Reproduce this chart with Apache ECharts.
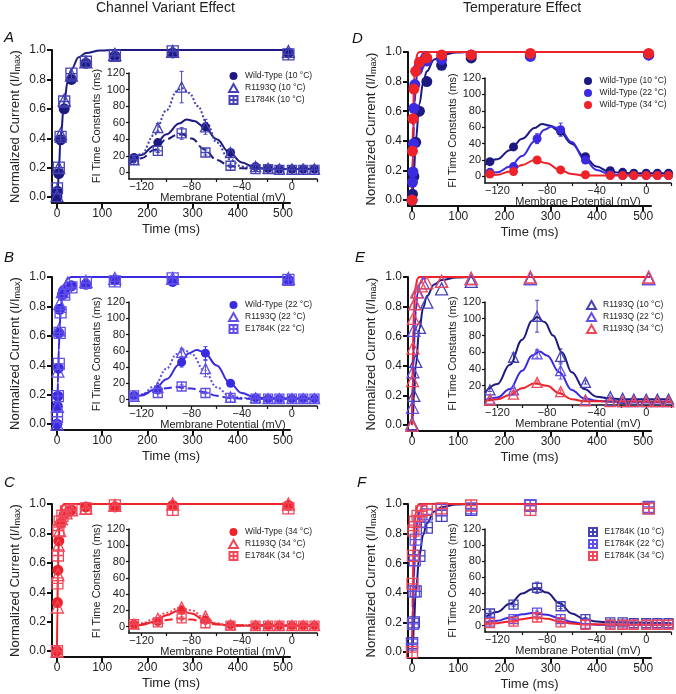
<!DOCTYPE html>
<html lang="en">
<head>
<meta charset="UTF-8" />
<title>Fast inactivation recovery</title>
<script src="https://cdn.jsdelivr.net/npm/echarts@6.0.0/dist/echarts.min.js"></script>
<style>body{margin:0;background:#fff}</style>
</head>
<body>
<div id="main" style="width:676px;height:694px"></div>
<script>
// ---- recovery time courses: [time (ms), normalized current] ----
const recWT10 = [[0,0],[1,0.04],[4,0.16],[8,0.39],[16,0.6],[32,0.8],[64,0.91],[128,0.96],[256,0.98],[512,0.98]];
const recRQ10 = [[0,0.01],[4,0.2],[8,0.43],[16,0.66],[32,0.83],[64,0.92],[128,0.97],[256,0.99],[512,0.99]];
const recEK10 = [[0,0.06],[4,0.2],[8,0.41],[16,0.65],[32,0.84],[64,0.92],[128,0.96],[256,0.99],[512,0.97]];
const recWT22 = [[0,0],[1,0.12],[2,0.19],[3,0.38],[4,0.62],[6,0.78],[12,0.88],[16,0.91],[32,0.94],[64,0.95],[128,0.98],[256,0.97],[512,0.98]];
const recRQ22 = [[0,0],[1,0.12],[2,0.36],[4,0.64],[6,0.82],[12,0.9],[24,0.96],[64,0.97],[128,0.99],[256,0.99],[512,0.99]];
const recEK22 = [[0,0.05],[2,0.19],[4,0.41],[6,0.62],[8,0.76],[16,0.88],[32,0.93],[64,0.96],[128,0.97],[256,0.99],[512,0.98]];
const recWT34 = [[0,0],[1,0.33],[2,0.55],[4,0.75],[8,0.87],[16,0.93],[32,0.96],[64,0.98],[128,0.98],[256,0.99],[512,0.99]];
const recRQ34 = [[0,0],[1,0.3],[2,0.52],[3,0.72],[6,0.82],[10,0.9],[20,0.94],[32,0.96],[64,0.97],[128,0.99],[256,1],[512,1]];
const recEK34 = [[0,0],[1,0.46],[2,0.65],[3,0.82],[6,0.88],[12,0.92],[20,0.95],[32,0.96],[64,0.97],[128,0.99],[256,0.96],[512,0.97]];

// fitted recovery curves
const fitRec10 = [[0,0],[2,0.06],[4,0.18],[8,0.4],[16,0.65],[24,0.79],[32,0.87],[48,0.95],[64,0.98],[96,0.997],[128,1],[515,1]];
const fitRec22 = [[0,0],[1,0.14],[2,0.28],[3,0.4],[4,0.5],[6,0.66],[8,0.77],[12,0.89],[16,0.95],[24,0.99],[32,1],[515,1]];
const fitRec34 = [[0,0],[1,0.3],[2,0.5],[3,0.65],[4,0.75],[6,0.88],[8,0.94],[12,0.99],[16,1],[515,1]];

// ---- inset: fast inactivation time constants vs membrane potential ----
const volts = [-126, -107, -88, -69, -49, -29, -19, -10, 0, 9, 18];
const tauWT10 = [18, 36, null, 55, 24, 7, 5, 4, 4, 4, 4];
const tauWT22 = [5, 12, 46, 57, 20, 2, 1, 1, 1, 1, 1];
const tauWT34 = [3, 6, 20, 8, 2, 1, 1, 1, 1, 1, 1];
const tauRQ10 = [15, 54, 103, 55, 24, 7, 5, 4, 4, 4, 4];
const tauRQ22 = [4, 15, 58, 38, 3, 2, 1, 1, 1, 1, 1];
const tauRQ34 = [3, 10, 24, 13, 2, 1, 1, 1, 1, 1, 1];
const tauEK10 = [15, 26, 47, 24, 8, 4, 4, 3, 3, 3, 3];
const tauEK22 = [5, 8, 16, 8, 2, 1, 1, 1, 1, 1, 1];
const tauEK34 = [3, 5, 10, 4, 1, 1, 1, 1, 1, 1, 1];
// error bar half widths
const errWT10 = [2, 3, 0, 3, 2, 0, 0, 0, 0, 0, 0];
const errWT22 = [1, 2, 6, 8, 3, 0, 0, 0, 0, 0, 0];
const errWT34 = [1, 1, 2, 1, 0, 0, 0, 0, 0, 0, 0];
const errRQ10 = [2, 5, 19, 9, 2, 0, 0, 0, 0, 0, 0];
const errRQ22 = [1, 2, 5, 10, 1, 0, 0, 0, 0, 0, 0];
const errRQ34 = [1, 1, 2, 2, 0, 0, 0, 0, 0, 0, 0];
const errEK10 = [3, 2, 7, 3, 2, 0, 0, 0, 0, 0, 0];
const errEK22 = [1, 1, 2, 1, 0, 0, 0, 0, 0, 0, 0];
const errEK34 = [1, 1, 2, 1, 0, 0, 0, 0, 0, 0, 0];

// fitted tau curves
const fitWT10 = [[-130,14],[-120,21],[-110,32],[-100,46],[-90,59],[-84,64],[-78,62],[-70,55],[-60,40],[-50,24],[-40,12],[-30,6],[-20,4.5],[-10,4],[20,4]];
const fitRQ10 = [[-130,12],[-120,22],[-110,45],[-100,75],[-92,98],[-88,102],[-82,96],[-75,80],[-68,60],[-60,36],[-50,16],[-40,7],[-30,5],[-20,4],[20,4]];
const fitEK10 = [[-130,10],[-120,17],[-110,27],[-100,40],[-92,45],[-88,46],[-80,41],[-70,28],[-60,15],[-50,8],[-40,5],[-30,4],[20,3]];
const fitWT22 = [[-130,3],[-120,5],[-110,12],[-100,25],[-90,43],[-82,57],[-76,61],[-70,58],[-60,42],[-50,21],[-40,8],[-30,3],[-20,1.5],[20,1]];
const fitRQ22 = [[-130,3],[-120,6],[-110,16],[-100,38],[-92,56],[-86,61],[-80,56],[-70,36],[-60,15],[-50,5],[-40,2],[-30,1],[20,1]];
const fitEK22 = [[-130,4],[-120,6],[-110,10],[-100,14],[-92,15.5],[-80,13.5],[-70,9],[-60,4.5],[-50,2],[-40,1],[20,1]];
const fitWT34 = [[-130,1],[-120,2],[-110,6],[-100,14],[-90,20],[-80,16],[-70,8],[-60,3],[-50,1],[20,1]];
const fitRQ34 = [[-130,2],[-120,4],[-110,9],[-100,17],[-90,23],[-80,20],[-70,11],[-60,4],[-50,1.5],[20,1]];
const fitEK34 = [[-130,2],[-120,3],[-110,5],[-100,8],[-90,10],[-80,8.5],[-70,5],[-60,2.5],[-50,1.5],[20,1]];

const timeTicks = [0, 100, 200, 300, 400, 500];
const currentTicks = [0, 0.2, 0.4, 0.6, 0.8, 1.0];
const voltTicks = [-120, -100, -80, -60, -40, -20, 0, 20];
const voltLabels = [-120, -80, -40, 0];
const tauTicks = [0, 20, 40, 60, 80, 100, 120];

const FONT = 'Liberation Sans, Arial, Helvetica, sans-serif';
const C10 = '#1c1a80', C22 = '#3a2be0', C34 = '#ee2229';
const L10 = '#4442b4', L22 = '#6050e8', L34 = '#f0485a';
const SQ = 'path://M1,1H19V19H1Z M10,1V19 M1,10H19';

let myChart = echarts.init(document.getElementById('main'));

const grids = [], xAxes = [], yAxes = [], series = [];

function mainPanel(left, top, width, height, xmin, xmax) {
  const gi = grids.length;
  grids.push({ left, top, width, height });
  xAxes.push({
    gridIndex: gi, type: 'value', min: xmin, max: xmax,
    name: 'Time (ms)', nameLocation: 'middle', nameGap: 20,
    nameTextStyle: { fontSize: 13, color: '#222', fontFamily: FONT },
    axisLine: { onZero: false, lineStyle: { color: '#111', width: 2 } },
    axisTick: { length: 5, lineStyle: { width: 2, color: '#111' }, customValues: timeTicks },
    axisLabel: { customValues: timeTicks, fontSize: 12, color: '#222', margin: 5, fontFamily: FONT },
    splitLine: { show: false }
  });
  yAxes.push({
    gridIndex: gi, type: 'value', min: -0.04, max: 1.0,
    name: 'Normalized Current (I/I{s|max})', nameLocation: 'middle', nameGap: 30,
    nameTextStyle: { fontSize: 13, color: '#222', fontFamily: FONT,
      rich: { s: { fontSize: 9, fontFamily: FONT, color: '#222', padding: [5, 0, 0, 0] } } },
    axisLine: { onZero: false, lineStyle: { color: '#111', width: 2 } },
    axisTick: { length: 5, lineStyle: { width: 2, color: '#111' }, customValues: currentTicks },
    axisLabel: { customValues: currentTicks, formatter: v => v.toFixed(1), fontSize: 12, color: '#222', margin: 6, fontFamily: FONT },
    splitLine: { show: false }
  });
  return gi;
}

function insetPanel(left, top, width, height, ymin, yLabels) {
  const gi = grids.length;
  grids.push({ left, top, width, height });
  xAxes.push({
    gridIndex: gi, type: 'value', min: -130, max: 20,
    name: 'Membrane Potential (mV)', nameLocation: 'middle', nameGap: 11,
    nameTextStyle: { fontSize: 11, color: '#222', fontFamily: FONT },
    axisLine: { onZero: false, lineStyle: { color: '#111', width: 1.5 } },
    axisTick: { length: 3, lineStyle: { width: 1.2, color: '#111' }, customValues: voltTicks },
    axisLabel: { customValues: voltLabels, formatter: v => (v < 0 ? '\u2212' + (-v) : '' + v),
      fontSize: 11, color: '#222', margin: 2, fontFamily: FONT },
    splitLine: { show: false }
  });
  yAxes.push({
    gridIndex: gi, type: 'value', min: ymin, max: 120,
    name: 'FI Time Constants (ms)', nameLocation: 'middle', nameGap: 24,
    nameTextStyle: { fontSize: 11, color: '#222', fontFamily: FONT },
    axisLine: { onZero: false, lineStyle: { color: '#111', width: 1.5 } },
    axisTick: { length: 3, lineStyle: { width: 1.2, color: '#111' }, customValues: yLabels },
    axisLabel: { customValues: yLabels, fontSize: 11, color: '#222', margin: 4, fontFamily: FONT },
    splitLine: { show: false }
  });
  return gi;
}

function pts(gi, name, data, kind, color, size) {
  const s = { type: 'scatter', name, xAxisIndex: gi, yAxisIndex: gi, data, symbolSize: size, clip: false, z: 4 };
  if (kind === 'wt') { s.symbol = 'circle'; s.itemStyle = { color, opacity: 1 }; }
  else {
    s.symbol = kind === 'rq' ? 'triangle' : SQ;
    s.itemStyle = { color: 'rgba(255,255,255,0)', borderColor: color, borderWidth: 1.3, opacity: 1 };
  }
  return s;
}

function curve(gi, data, color, type) {
  return { type: 'line', xAxisIndex: gi, yAxisIndex: gi, data, smooth: 0.4, smoothMonotone: 'x',
    showSymbol: false, symbol: 'none', clip: false, z: 3,
    lineStyle: { color, width: 2, type: type || 'solid' } };
}

function tauPts(tau) { return volts.map((v, i) => [v, tau[i]]).filter(d => d[1] != null); }

function errBars(gi, tau, err, color) {
  const data = volts.map((v, i) => [v, tau[i] - err[i], tau[i] + err[i]]).filter((d, i) => tau[i] != null && err[i] > 0);
  return { type: 'custom', xAxisIndex: gi, yAxisIndex: gi, data, z: 2, silent: true,
    renderItem(params, api) {
      const lo = api.coord([api.value(0), api.value(1)]);
      const hi = api.coord([api.value(0), api.value(2)]);
      return { type: 'group', children: [
        { type: 'line', shape: { x1: lo[0], y1: lo[1], x2: hi[0], y2: hi[1] }, style: { stroke: color, lineWidth: 1 } },
        { type: 'line', shape: { x1: lo[0] - 2, y1: lo[1], x2: lo[0] + 2, y2: lo[1] }, style: { stroke: color, lineWidth: 1 } },
        { type: 'line', shape: { x1: hi[0] - 2, y1: hi[1], x2: hi[0] + 2, y2: hi[1] }, style: { stroke: color, lineWidth: 1 } }
      ] };
    } };
}

const legends = [];
function legendAt(left, top, names) {
  legends.push({ left, top, orient: 'vertical', data: names, selectedMode: false,
    itemWidth: 9, itemHeight: 8, itemGap: 2, padding: 0,
    textStyle: { fontSize: 8.5, color: '#222', fontFamily: FONT, lineHeight: 9, padding: [1, 0, 0, 2] } });
}

const NWT = t => 'Wild-Type (' + t + ' \u00b0C)';
const NRQ = t => 'R1193Q (' + t + ' \u00b0C)';
const NEK = t => 'E1784K (' + t + ' \u00b0C)';

// left column: one temperature, three channel variants
const leftRows = [
  { t: 10, top: 50, itop: 73, ih: 106, c: C10, l: L10, wt: recWT10, rq: recRQ10, ek: recEK10, fit: fitRec10,
    twt: tauWT10, trq: tauRQ10, tek: tauEK10, ewt: errWT10, erq: errRQ10, eek: errEK10, fwt: fitWT10, frq: fitRQ10, fek: fitEK10 },
  { t: 22, top: 277, itop: 302, ih: 104, c: C22, l: L22, wt: recWT22, rq: recRQ22, ek: recEK22, fit: fitRec22,
    twt: tauWT22, trq: tauRQ22, tek: tauEK22, ewt: errWT22, erq: errRQ22, eek: errEK22, fwt: fitWT22, frq: fitRQ22, fek: fitEK22 },
  { t: 34, top: 504, itop: 529, ih: 104, c: C34, l: L34, wt: recWT34, rq: recRQ34, ek: recEK34, fit: fitRec34,
    twt: tauWT34, trq: tauRQ34, tek: tauEK34, ewt: errWT34, erq: errRQ34, eek: errEK34, fwt: fitWT34, frq: fitRQ34, fek: fitEK34 }
];
leftRows.forEach(r => {
  const g = mainPanel(52, r.top, 238, 153, -11, 515.5);
  series.push(curve(g, r.fit, r.c));
  series.push(pts(g, NWT(r.t), r.wt, 'wt', r.c, 11));
  series.push(pts(g, NRQ(r.t), r.rq, 'rq', r.l, 12));
  series.push(pts(g, NEK(r.t), r.ek, 'ek', r.l, 11));
  const gi = insetPanel(129, r.itop, 188, r.ih, -8, tauTicks);
  series.push(curve(gi, r.fwt, r.c, 'solid'));
  series.push(curve(gi, r.frq, r.l, 'dotted'));
  series.push(curve(gi, r.fek, r.c, 'dashed'));
  series.push(errBars(gi, r.twt, r.ewt, r.c), errBars(gi, r.trq, r.erq, r.l), errBars(gi, r.tek, r.eek, r.l));
  series.push(pts(gi, NWT(r.t), tauPts(r.twt), 'wt', r.c, 9));
  series.push(pts(gi, NRQ(r.t), tauPts(r.trq), 'rq', r.l, 10));
  series.push(pts(gi, NEK(r.t), tauPts(r.tek), 'ek', r.l, 9));
  legendAt(228, r.itop - 2, [NWT(r.t), NRQ(r.t), NEK(r.t)]);
});

// right column: one channel variant, three temperatures
const temps = [10, 22, 34];
const cols = [C10, C22, C34];
const lights = [L10, L22, L34];
const fitsRec = [fitRec10, fitRec22, fitRec34];
const rightRows = [
  { kind: 'wt', nm: NWT, top: 52, itop: 78, ih: 105, ymin: -8, yl: tauTicks, rec: [recWT10, recWT22, recWT34],
    tau: [tauWT10, tauWT22, tauWT34], err: [errWT10, errWT22, errWT34], fit: [fitWT10, fitWT22, fitWT34], lx: 584 },
  { kind: 'rq', nm: NRQ, top: 277, itop: 302, ih: 103, ymin: -3, yl: tauTicks.slice(1), rec: [recRQ10, recRQ22, recRQ34],
    tau: [tauRQ10, tauRQ22, tauRQ34], err: [errRQ10, errRQ22, errRQ34], fit: [fitRQ10, fitRQ22, fitRQ34], lx: 586 },
  { kind: 'ek', nm: NEK, top: 504, itop: 529, ih: 103, ymin: -8, yl: tauTicks, rec: [recEK10, recEK22, recEK34],
    tau: [tauEK10, tauEK22, tauEK34], err: [errEK10, errEK22, errEK34], fit: [fitEK10, fitEK22, fitEK34], lx: 588 }
];
rightRows.forEach(r => {
  const g = mainPanel(408, r.top, 243, 154, -8.7, 517);
  const pc = r.kind === 'wt' ? cols : lights;
  const sz = r.kind === 'rq' ? 12 : 11;
  temps.forEach((t, k) => series.push(curve(g, fitsRec[k], cols[k])));
  temps.forEach((t, k) => series.push(pts(g, r.nm(t), r.rec[k], r.kind, pc[k], sz)));
  const gi = insetPanel(485, r.itop, 186, r.ih, r.ymin, r.yl);
  temps.forEach((t, k) => series.push(curve(gi, r.fit[k], cols[k])));
  temps.forEach((t, k) => series.push(errBars(gi, r.tau[k], r.err[k], pc[k])));
  temps.forEach((t, k) => series.push(pts(gi, r.nm(t), tauPts(r.tau[k]), r.kind, pc[k], r.kind === 'rq' ? 10 : 9)));
  legendAt(r.lx, r.itop - 2, temps.map(t => r.nm(t)));
});

const letter = (text, x, y) => ({ type: 'text', left: x, top: y,
  style: { text, fontSize: 15, fontStyle: 'italic', fill: '#111', fontFamily: FONT } });

let options = {
  animation: false,
  grid: grids,
  xAxis: xAxes,
  yAxis: yAxes,
  legend: legends,
  series: series,
  graphic: [
    { type: 'text', left: 96, top: 1, style: { text: 'Channel Variant Effect', fontSize: 14, fill: '#222', fontFamily: FONT } },
    { type: 'text', left: 463, top: 1, style: { text: 'Temperature Effect', fontSize: 14, fill: '#222', fontFamily: FONT } },
    letter('A', 4, 30), letter('B', 4, 250), letter('C', 4, 475),
    letter('D', 352, 31), letter('E', 355, 250), letter('F', 357, 475)
  ]
};
myChart.setOption(options);
</script>
</body>
</html>
